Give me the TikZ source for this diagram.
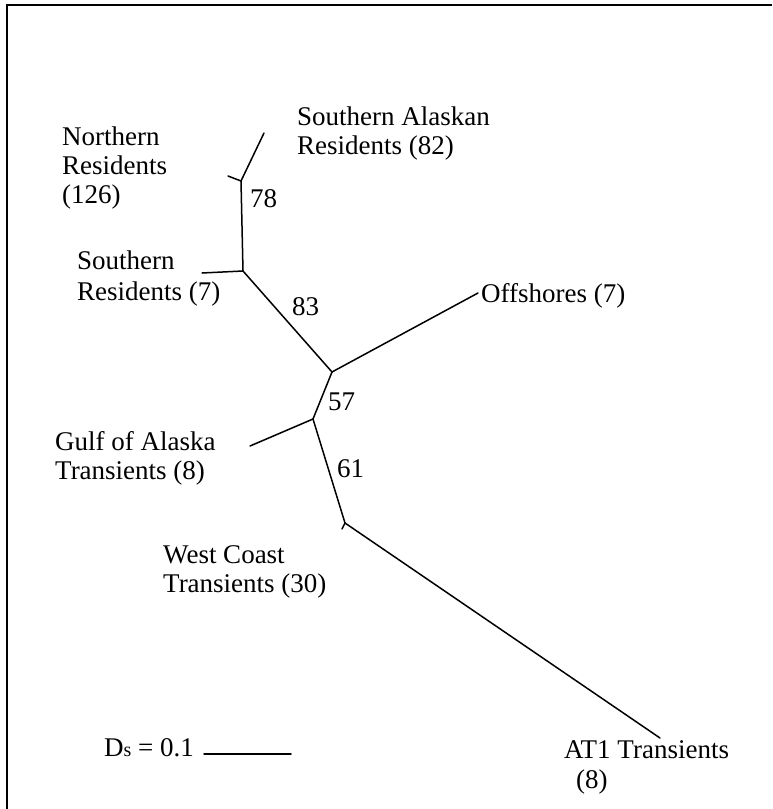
\documentclass[tikz,border=0pt]{standalone}
\usepackage{fontspec}
\setmainfont{Liberation Serif}
\begin{document}
\begin{tikzpicture}[x=1pt,y=-1pt,
  branch/.style={line width=1.5pt,line cap=round},
  lbl/.style={anchor=base west,inner sep=0pt,font=\fontsize{27}{30}\selectfont}]
\useasboundingbox (0,0) rectangle (772,809);
% frame
\draw[line width=1.5pt] (7,809) -- (7,5) -- (772,5);
% tree coordinates
\coordinate (sa) at (264,133);
\coordinate (n1) at (241,181);
\coordinate (nr) at (228,176);
\coordinate (n2) at (243,271);
\coordinate (sr) at (202,273);
\coordinate (n3) at (332,372);
\coordinate (off) at (478,293);
\coordinate (n4) at (313,419);
\coordinate (goa) at (250,446);
\coordinate (n5) at (345,523);
\coordinate (wc) at (342,529);
\coordinate (at1) at (660,738);
\coordinate (sb1) at (204,754);
\coordinate (sb2) at (291,754);
% branches
\draw[branch] (sa) -- (n1);
\draw[branch] (nr) -- (n1);
\draw[branch] (n1) -- (n2);
\draw[branch] (sr) -- (n2);
\draw[branch] (n2) -- (n3);
\draw[branch] (off) -- (n3);
\draw[branch] (n3) -- (n4);
\draw[branch] (goa) -- (n4);
\draw[branch] (n4) -- (n5);
\draw[branch] (wc) -- (n5);
\draw[branch] (n5) -- (at1);
\draw[branch] (sb1) -- (sb2);
% labels
\node[lbl] (tsa1) at (297,125) {Southern Alaskan};
\node[lbl] (tsa2) at (297,154) {Residents (82)};
\node[lbl] (tnr1) at (62,145) {Northern};
\node[lbl] (tnr2) at (62,174) {Residents};
\node[lbl] (tnr3) at (62,203) {(126)};
\node[lbl] (b78) at (250,207) {78};
\node[lbl] (tsr1) at (77,269) {Southern};
\node[lbl] (tsr2) at (77,300) {Residents (7)};
\node[lbl] (b83) at (292,315) {83};
\node[lbl] (toff) at (481,302) {Offshores (7)};
\node[lbl] (b57) at (328,410) {57};
\node[lbl] (tgoa1) at (55,450) {Gulf of Alaska};
\node[lbl] (tgoa2) at (55,479) {Transients (8)};
\node[lbl] (b61) at (337,477) {61};
\node[lbl] (twc1) at (163,563) {West Coast};
\node[lbl] (twc2) at (163,592) {Transients (30)};
\node[lbl] (tds) at (104,756) {D{\fontsize{20}{20}\selectfont s} = 0.1};
\node[lbl] (tat1) at (564,758) {AT1 Transients};
\node[lbl] (tat2) at (576,788) {(8)};
\end{tikzpicture}
\end{document}
